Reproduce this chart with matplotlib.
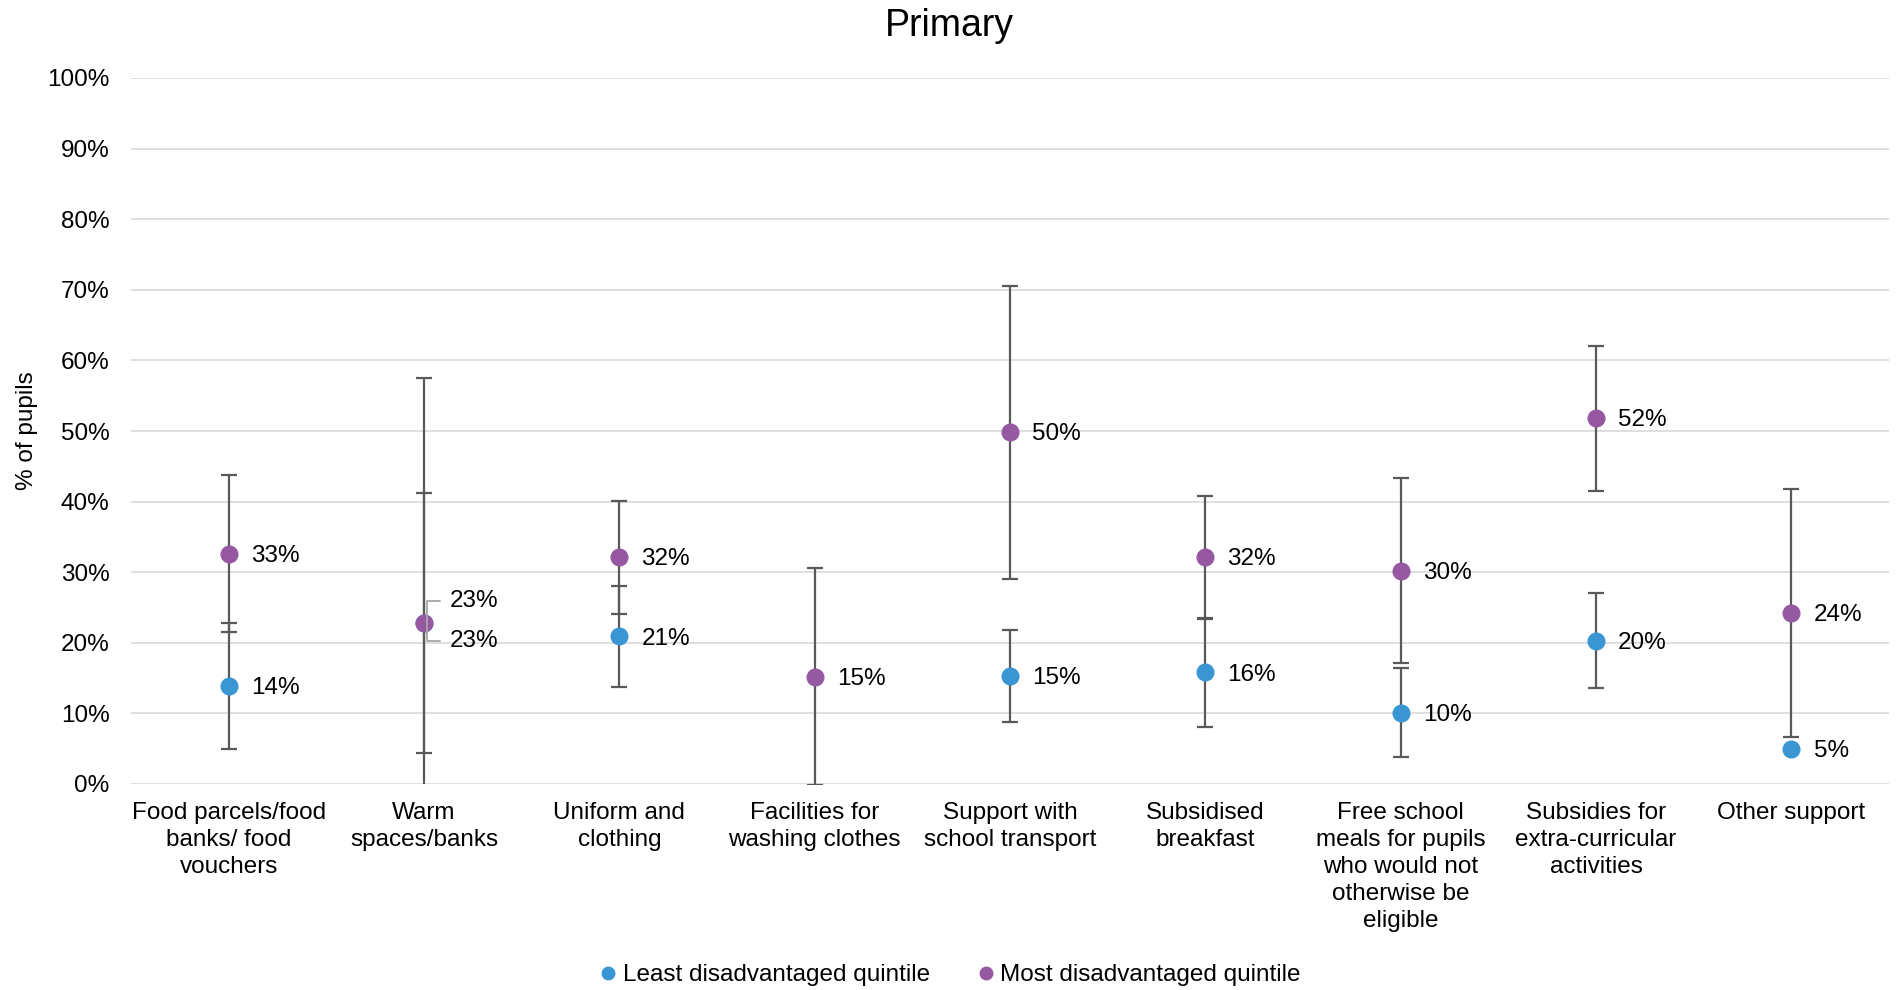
import matplotlib
matplotlib.use("Agg")
import matplotlib.pyplot as plt
import matplotlib.transforms as mtransforms
from matplotlib.lines import Line2D
import numpy as np

plt.rcParams['font.family'] = ['Liberation Sans', 'DejaVu Sans']

categories = [
    "Food parcels/food\nbanks/ food\nvouchers",
    "Warm\nspaces/banks",
    "Uniform and\nclothing",
    "Facilities for\nwashing clothes",
    "Support with\nschool transport",
    "Subsidised\nbreakfast",
    "Free school\nmeals for pupils\nwho would not\notherwise be\neligible",
    "Subsidies for\nextra-curricular\nactivities",
    "Other support",
]
least_vals = [13.9, 22.8, 20.9, np.nan, 15.3, 15.8, 10.1, 20.3, 4.9]
least_err = [8.9, 18.4, 7.1, np.nan, 6.45, 7.7, 6.3, 6.75, 0.0]
most_vals = [32.6, 22.8, 32.1, 15.2, 49.8, 32.1, 30.2, 51.8, 24.2]
most_err = [11.1, 34.7, 8.0, 15.4, 20.8, 8.7, 13.1, 10.25, 17.6]
series_names = ["Least disadvantaged quintile", "Most disadvantaged quintile"]
yticks = [0, 10, 20, 30, 40, 50, 60, 70, 80, 90, 100]

BLUE = "#3A96D3"
PURPLE = "#9558A1"
ERR = "#595959"
GRID = "#D9D9D9"

fig = plt.figure(figsize=(18.99, 9.90), dpi=100)
ax = fig.add_axes([131/1899, 1-784/990, (1889-131)/1899, (784-78)/990])

x = np.arange(len(categories))
fs = 17.5

for vals, errs, col in [(least_vals, least_err, BLUE), (most_vals, most_err, PURPLE)]:
    v = np.array(vals, dtype=float)
    e = np.array(errs, dtype=float)
    m = ~np.isnan(v)
    ax.errorbar(x[m], v[m], yerr=e[m], fmt='none', ecolor=ERR, elinewidth=1.6,
                capsize=6, capthick=1.6, zorder=3)
for vals, col in [(least_vals, BLUE), (most_vals, PURPLE)]:
    v = np.array(vals, dtype=float)
    m = ~np.isnan(v)
    ax.plot(x[m], v[m], 'o', color=col, markersize=13, markeredgewidth=0, zorder=4)

lead_tr = mtransforms.offset_copy(ax.transData, fig=fig, x=2.5, y=0, units='dots')

# data labels
for i, (lv, mv) in enumerate(zip(least_vals, most_vals)):
    if i == 1:
        # overlapping values: labels with leader lines
        for v, dy in ((mv, 16.0), (lv, -13.0)):
            ax.annotate(f"{round(v)}%", xy=(x[i], v), xycoords=lead_tr,
                        xytext=(16.5, dy), textcoords='offset points',
                        ha='left', va='center', fontsize=fs, color='#000000', zorder=5,
                        arrowprops=dict(arrowstyle='-', color='#A6A6A6', lw=1.3, shrinkA=5, shrinkB=0,
                                        relpos=(0, 0.5),
                                        connectionstyle='angle,angleA=0,angleB=90,rad=0'))
        continue
    for v in (lv, mv):
        if not np.isnan(v):
            ax.annotate(f"{round(v)}%", xy=(x[i], v), xytext=(16, -1.5), textcoords='offset points',
                        ha='left', va='center', fontsize=fs, color='#000000', zorder=5)

ax.set_xlim(-0.5, len(categories) - 0.5)
ax.set_ylim(0, 100)
ax.set_yticks(yticks)
ax.set_yticklabels([f"{t}%" for t in yticks], fontsize=fs)
ax.set_xticks(x)
ax.set_xticklabels(categories, fontsize=fs, linespacing=1.3, va='top')
ax.tick_params(axis='both', length=0)
ax.tick_params(axis='y', pad=15.5)
ax.tick_params(axis='x', pad=13)
ax.grid(axis='y', color=GRID, linewidth=1.2)
ax.set_axisbelow(True)
for s in ax.spines.values():
    s.set_visible(False)

ax.set_ylabel("% of pupils", fontsize=fs)
ax.yaxis.set_label_coords(-(131-38)/(1889-131), 0.5)

fig.text(0.5, 1-26/990, "Primary", ha='center', va='center', fontsize=27)

handles = [Line2D([], [], linestyle='none', marker='o', color=BLUE, markersize=10, markeredgewidth=0),
           Line2D([], [], linestyle='none', marker='o', color=PURPLE, markersize=10, markeredgewidth=0)]
fig.legend(handles, series_names, loc='center', bbox_to_anchor=(0.5, 1-975/990), ncol=2,
           frameon=False, fontsize=fs, handletextpad=0.2, columnspacing=1.9, handlelength=0.8)

fig.savefig("out.png", dpi=100)
